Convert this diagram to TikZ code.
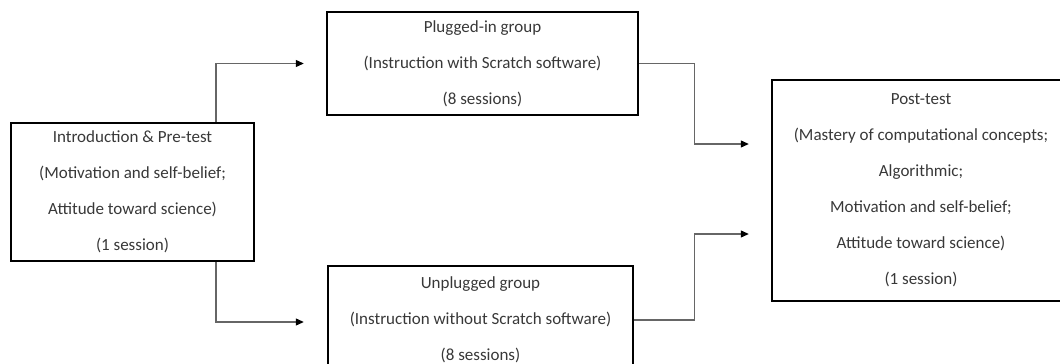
\documentclass[tikz,border=0pt]{standalone}
\usepackage{fontspec}
\setmainfont{Carlito}
\usetikzlibrary{arrows.meta}
\tikzset{
box/.style={draw, line width=2.4pt, align=center, inner sep=0pt, text=black!78, font=\fontsize{17}{36}\selectfont}, % the stage boxes
conn/.style={-{Triangle[length=8pt,width=7pt,black]}, draw=black!60, line width=1.1pt}, % the elbow arrows
}
\begin{document}
\begin{tikzpicture}[x=1pt,y=1pt]
        \clip (0,0) rectangle (1060,-364);
        \node[box, minimum width=243pt, minimum height=138pt] at (132.5,-192) (intro) {Introduction \& Pre-test\\(Motivation and self-belief;\\Attitude toward science)\\(1 session)};
        \node[box, minimum width=311pt, minimum height=103pt] at (482.5,-63.5) (plugged) {Plugged-in group\\(Instruction with Scratch software)\\(8 sessions)};
        \node[box, minimum width=305pt, minimum height=108pt] at (480.5,-320) (unplugged) {Unplugged group\\(Instruction without Scratch software)\\(8 sessions)};
        \node[box, minimum width=298pt, minimum height=221pt] at (921,-190.5) (post) {Post-test\\(Mastery of computational concepts;\\Algorithmic;\\Motivation and self-belief;\\Attitude toward science)\\(1 session)};
        \draw[conn]
        ([xshift=83.5pt]intro.north) |- ([xshift=-22pt]plugged.west);
        \draw[conn]
        ([xshift=83.5pt]intro.south) |- ([xshift=-23pt,yshift=-2pt]unplugged.west);
        \draw[conn]
        (plugged.east) -- ([xshift=55pt]plugged.east) |- ([xshift=-22pt,yshift=46.5pt]post.west);
        \draw[conn]
        (unplugged.east) -- ([xshift=60pt]unplugged.east) |- ([xshift=-22pt,yshift=-43.5pt]post.west);
    \end{tikzpicture}
\end{document}
